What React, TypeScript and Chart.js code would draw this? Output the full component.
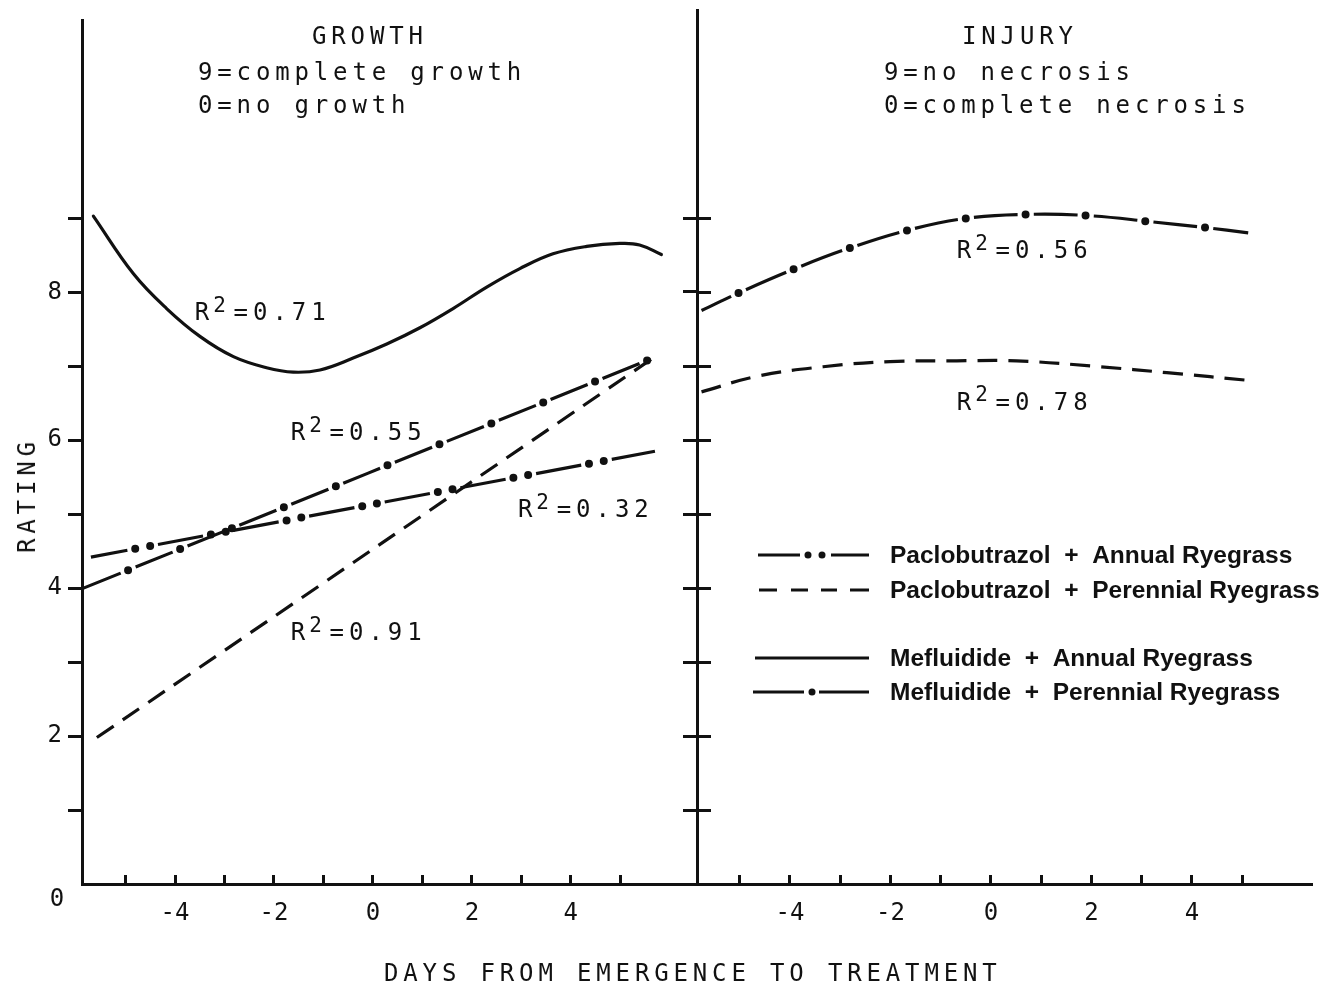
import React, { useEffect, useRef } from 'react';
import { Chart, registerables } from 'chart.js';

Chart.register(...registerables);

const MONO = '"DejaVu Sans Mono", monospace';
const SANS = '"Liberation Sans", Arial, Helvetica, sans-serif';
const INK = '#111';

// ---------- axes ----------
const Y_TICKS = [1, 2, 3, 4, 5, 6, 7, 8, 9];
const Y_TICK_LABELS = [2, 4, 6, 8];
const X_TICKS = [-5, -4, -3, -2, -1, 0, 1, 2, 3, 4, 5];
const X_TICK_LABELS = [-4, -2, 0, 2, 4];

// ---------- texts ----------
const GROWTH_TITLE = ['GROWTH', '9=complete growth', '0=no growth'];
const INJURY_TITLE = ['INJURY', '9=no necrosis', '0=complete necrosis'];
const Y_TITLE = 'RATING';
const X_TITLE = 'DAYS FROM EMERGENCE TO TREATMENT';
const LEGEND_LABELS = [
  'Paclobutrazol  +  Annual Ryegrass',
  'Paclobutrazol  +  Perennial Ryegrass',
  'Mefluidide  +  Annual Ryegrass',
  'Mefluidide  +  Perennial Ryegrass',
];

// ---------- GROWTH panel data ----------
const GROWTH_MEF_ANNUAL_X = [-5.65, -4.84, -4.17, -3.49, -2.82, -2.15, -1.61, -1.07, -0.4, 0.28, 0.95, 1.62, 2.3, 2.97, 3.64, 4.32, 4.99, 5.39, 5.83];
const GROWTH_MEF_ANNUAL_Y = [9.03, 8.25, 7.78, 7.4, 7.13, 6.98, 6.92, 6.95, 7.11, 7.3, 7.52, 7.78, 8.07, 8.32, 8.52, 8.62, 8.66, 8.64, 8.51];

const GROWTH_MEF_PERENNIAL_X = [-5.85, 5.66];
const GROWTH_MEF_PERENNIAL_Y = [4.0, 7.11];

const GROWTH_PAC_ANNUAL_X = [-5.7, 5.7];
const GROWTH_PAC_ANNUAL_Y = [4.42, 5.85];

const GROWTH_PAC_PERENNIAL_X = [-5.58, 5.66];
const GROWTH_PAC_PERENNIAL_Y = [1.98, 7.11];

const GROWTH_R2 = ['0.71', '0.55', '0.91', '0.32'];

// ---------- INJURY panel data ----------
const INJURY_DASHDOT_X = [-5.76, -5.01, -3.88, -2.83, -1.57, -0.44, 0.81, 1.98, 3.18, 4.27, 5.12];
const INJURY_DASHDOT_Y = [7.75, 7.99, 8.32, 8.59, 8.85, 9.0, 9.05, 9.03, 8.95, 8.87, 8.8];

const INJURY_PAC_PERENNIAL_X = [-5.76, -4.66, -3.34, -2.01, -0.68, 0.51, 2.17, 3.5, 5.22];
const INJURY_PAC_PERENNIAL_Y = [6.65, 6.86, 6.99, 7.06, 7.07, 7.07, 6.99, 6.91, 6.8];

const INJURY_R2 = ['0.56', '0.78'];

// ---------- styles / positions (not data) ----------
const GROWTH_R2_POS = [[-3.6, 7.62], [-1.66, 6.0], [-1.66, 3.3], [2.93, 4.96]];
const INJURY_R2_POS = [[-0.68, 8.46], [-0.68, 6.41]];

type LineStyle = { dash: number[]; offset: number; dots?: number[]; dotOffset?: number };
const STYLE: Record<string, LineStyle> = {
  solid: { dash: [], offset: 0 },
  dashed: { dash: [20, 11], offset: 0 },
  dashDot: { dash: [40, 16], offset: 0, dots: [0, 56], dotOffset: 8 },
  dashDotDot: { dash: [46, 31], offset: 9, dots: [0, 15, 0, 62], dotOffset: 32 },
  injuryDashDot: { dash: [44, 16], offset: 11, dots: [0, 60], dotOffset: 19 },
};

const LEGEND_SAMPLES = [
  { segs: [[61, 103], [134, 172]], dots: [111, 125] },
  { segs: [[62, 80], [94, 111], [124, 140], [153, 172]], dots: [] as number[] },
  { segs: [[58, 172]], dots: [] as number[] },
  { segs: [[56, 107], [122, 172]], dots: [115] },
];
const LEGEND_ROW_Y = [545, 580, 648, 682];
const LEGEND_TEXT_X = 193;

function makeDatasets(xs: number[], ys: number[], style: LineStyle, label: string) {
  const data = xs.map((v, i) => ({ x: v, y: ys[i] }));
  const sets: any[] = [
    {
      label,
      data,
      borderColor: INK,
      borderWidth: 3.2,
      borderDash: style.dash,
      borderDashOffset: style.offset,
      borderCapStyle: style.dash.length ? 'butt' : 'round',
      pointRadius: 0,
      tension: 0.4,
      fill: false,
    },
  ];
  if (style.dots) {
    sets.push({
      label: label + ' dots',
      data,
      borderColor: INK,
      borderWidth: 8,
      borderDash: style.dots,
      borderDashOffset: style.dotOffset,
      borderCapStyle: 'round',
      pointRadius: 0,
      tension: 0.4,
      fill: false,
    });
  }
  return sets;
}

const tickFont = { family: MONO, size: 24 };

function xScale(min: number, max: number) {
  return {
    type: 'linear',
    position: 'bottom',
    min,
    max,
    bounds: 'data',
    afterBuildTicks: (s: any) => {
      s.ticks = X_TICKS.map((v) => ({ value: v }));
    },
    afterFit: (s: any) => {
      s.height = 105;
    },
    grid: { drawOnChartArea: false, color: INK, lineWidth: 3, tickLength: -9 },
    border: { color: INK, width: 3 },
    ticks: {
      autoSkip: false,
      maxRotation: 0,
      padding: 24,
      color: INK,
      font: tickFont,
      callback: (v: number) => (X_TICK_LABELS.includes(v) ? String(v) : ''),
    },
  };
}

function yScale(max: number, width: number, position: string, showLabels: boolean, showBorder: boolean) {
  return {
    type: 'linear',
    position,
    min: 0,
    max,
    bounds: 'data',
    afterBuildTicks: (s: any) => {
      s.ticks = Y_TICKS.map((v) => ({ value: v }));
    },
    afterFit: (s: any) => {
      s.width = width;
    },
    grid: { drawOnChartArea: false, color: INK, lineWidth: 3, tickLength: 14 },
    border: { display: showBorder, color: INK, width: 3 },
    ticks: {
      display: showLabels,
      padding: 6,
      color: INK,
      font: tickFont,
      callback: (v: number) => (Y_TICK_LABELS.includes(v) ? String(v) : ''),
    },
  };
}

function drawR2(ctx: CanvasRenderingContext2D, px: number, py: number, value: string) {
  const pitch = 19.4;
  ctx.fillStyle = INK;
  ctx.textAlign = 'left';
  ctx.textBaseline = 'alphabetic';
  ctx.font = `24px ${MONO}`;
  ctx.fillText('R', px, py);
  ctx.font = `21px ${MONO}`;
  ctx.fillText('2', px + pitch - 1, py - 8.4);
  ctx.font = `24px ${MONO}`;
  ('=' + value).split('').forEach((c, i) => ctx.fillText(c, px + pitch * (2 + i), py));
}

const growthDecor = {
  id: 'growthDecor',
  afterDatasetsDraw(chart: any) {
    const { ctx, scales } = chart;
    const x = scales.x;
    const y = scales.y;
    ctx.save();
    GROWTH_R2.forEach((v, i) => {
      drawR2(ctx, x.getPixelForValue(GROWTH_R2_POS[i][0]), y.getPixelForValue(GROWTH_R2_POS[i][1]), v);
    });
    ctx.font = `24px ${MONO}`;
    ctx.textAlign = 'center';
    ctx.textBaseline = 'middle';
    ctx.fillStyle = INK;
    ctx.fillText('0', x.left - 25, y.getPixelForValue(0) + 16);
    ctx.restore();
  },
};

const injuryDecor = {
  id: 'injuryDecor',
  afterDatasetsDraw(chart: any) {
    const { ctx, scales, chartArea } = chart;
    const x = scales.x;
    const y = scales.y;
    ctx.save();
    INJURY_R2.forEach((v, i) => {
      drawR2(ctx, x.getPixelForValue(INJURY_R2_POS[i][0]), y.getPixelForValue(INJURY_R2_POS[i][1]), v);
    });
    // legend
    const L = chartArea.left;
    const T = chartArea.top;
    ctx.strokeStyle = INK;
    ctx.fillStyle = INK;
    ctx.lineWidth = 3;
    LEGEND_LABELS.forEach((label, i) => {
      const ry = T + LEGEND_ROW_Y[i];
      const s = LEGEND_SAMPLES[i];
      s.segs.forEach(([a, b]) => {
        ctx.beginPath();
        ctx.moveTo(L + a, ry);
        ctx.lineTo(L + b, ry);
        ctx.stroke();
      });
      s.dots.forEach((d) => {
        ctx.beginPath();
        ctx.arc(L + d, ry, 3.5, 0, Math.PI * 2);
        ctx.fill();
      });
      ctx.font = `bold 24.5px ${SANS}`;
      ctx.textAlign = 'left';
      ctx.textBaseline = 'middle';
      ctx.fillText(label, L + LEGEND_TEXT_X, ry + 1);
    });
    ctx.restore();
  },
};

function baseOptions(padding: any, scales: any) {
  return {
    responsive: false,
    animation: false,
    devicePixelRatio: 1,
    layout: { padding },
    plugins: { legend: { display: false }, tooltip: { enabled: false } },
    events: [],
    scales,
  };
}

function Label({ x, baseline, text }: { x: number; baseline: number; text: string }) {
  return (
    <div
      style={{
        position: 'absolute',
        left: x,
        top: baseline - 20.3,
        font: `24px ${MONO}`,
        lineHeight: '24px',
        letterSpacing: '4.85px',
        whiteSpace: 'pre',
        color: INK,
      }}
    >
      {text}
    </div>
  );
}

export default function App() {
  const leftRef = useRef<HTMLCanvasElement>(null);
  const rightRef = useRef<HTMLCanvasElement>(null);

  useEffect(() => {
    const left = new Chart(leftRef.current as HTMLCanvasElement, {
      type: 'line',
      data: {
        datasets: [
          ...makeDatasets(GROWTH_MEF_ANNUAL_X, GROWTH_MEF_ANNUAL_Y, STYLE.solid, LEGEND_LABELS[2]),
          ...makeDatasets(GROWTH_MEF_PERENNIAL_X, GROWTH_MEF_PERENNIAL_Y, STYLE.dashDot, LEGEND_LABELS[3]),
          ...makeDatasets(GROWTH_PAC_ANNUAL_X, GROWTH_PAC_ANNUAL_Y, STYLE.dashDotDot, LEGEND_LABELS[0]),
          ...makeDatasets(GROWTH_PAC_PERENNIAL_X, GROWTH_PAC_PERENNIAL_Y, STYLE.dashed, LEGEND_LABELS[1]),
        ],
      },
      options: baseOptions(
        { left: 0, right: 0, top: 20, bottom: 0 },
        {
          x: xScale(-5.88, 6.55),
          y: yScale((884 - 20) / 74, 82, 'left', true, true),
          yR: yScale((884 - 20) / 74, 23, 'right', false, false),
        }
      ) as any,
      plugins: [growthDecor],
    } as any);

    const right = new Chart(rightRef.current as HTMLCanvasElement, {
      type: 'line',
      data: {
        datasets: [
          ...makeDatasets(INJURY_DASHDOT_X, INJURY_DASHDOT_Y, STYLE.injuryDashDot, 'Injury R2=0.56'),
          ...makeDatasets(INJURY_PAC_PERENNIAL_X, INJURY_PAC_PERENNIAL_Y, STYLE.dashed, LEGEND_LABELS[1]),
        ],
      },
      options: baseOptions(
        { left: 0, right: 18, top: 10, bottom: 0 },
        {
          x: xScale(-5.85, 6.37),
          y: yScale((884 - 10) / 74, 17, 'left', false, true),
        }
      ) as any,
      plugins: [injuryDecor],
    } as any);

    return () => {
      left.destroy();
      right.destroy();
    };
  }, []);

  return (
    <div
      style={{
        position: 'fixed',
        left: 0,
        top: 0,
        width: 1329,
        height: 989,
        background: '#fff',
        overflow: 'hidden',
      }}
    >
      <canvas
        ref={leftRef}
        width={720}
        height={989}
        style={{ position: 'absolute', left: 0, top: 0, width: 720, height: 989 }}
      />
      <canvas
        ref={rightRef}
        width={649}
        height={989}
        style={{ position: 'absolute', left: 680, top: 0, width: 649, height: 989 }}
      />
      <Label x={312} baseline={44} text={GROWTH_TITLE[0]} />
      <Label x={198} baseline={80} text={GROWTH_TITLE[1]} />
      <Label x={198} baseline={113} text={GROWTH_TITLE[2]} />
      <Label x={962} baseline={44} text={INJURY_TITLE[0]} />
      <Label x={884} baseline={80} text={INJURY_TITLE[1]} />
      <Label x={884} baseline={113} text={INJURY_TITLE[2]} />
      <Label x={384} baseline={981} text={X_TITLE} />
      <div
        style={{
          position: 'absolute',
          left: 27,
          top: 495,
          transform: 'translate(-50%, -50%) rotate(-90deg)',
          font: `24px ${MONO}`,
          lineHeight: '24px',
          letterSpacing: '4.85px',
          whiteSpace: 'pre',
          color: INK,
        }}
      >
        {Y_TITLE}
      </div>
    </div>
  );
}
